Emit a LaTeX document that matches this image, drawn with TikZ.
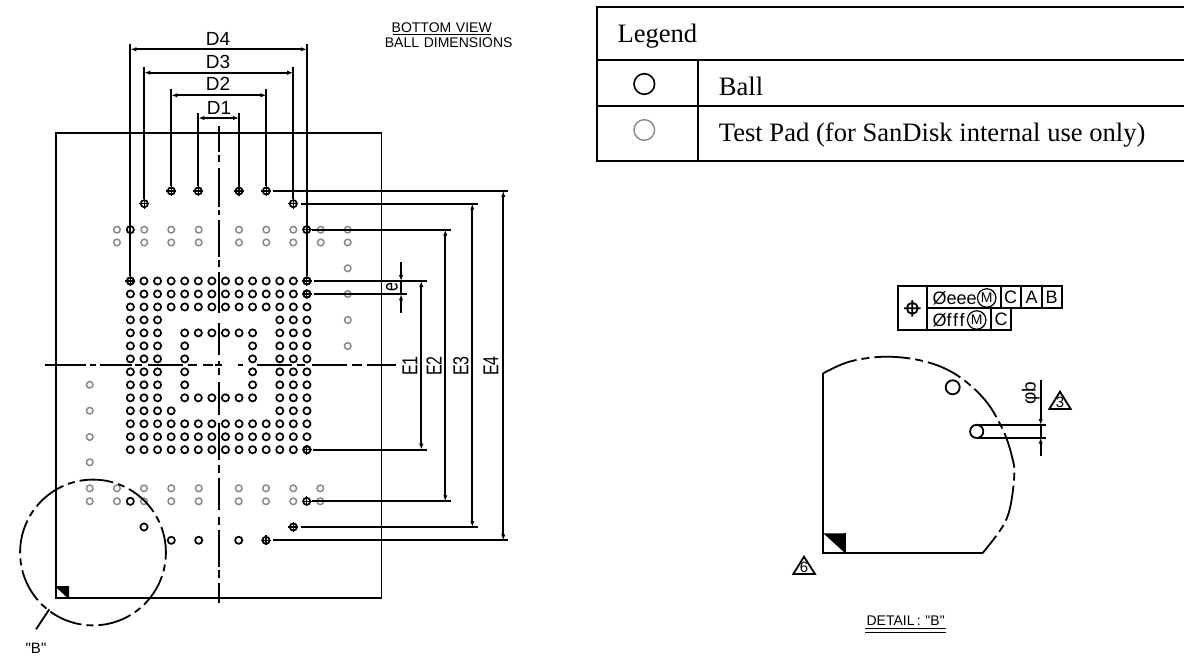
\documentclass[tikz,border=0pt]{standalone}
\usepackage{fontspec}
\setmainfont{Liberation Serif}
\newfontfamily\cadfont{Liberation Sans}
\usetikzlibrary{arrows.meta}
\definecolor{padgrey}{HTML}{8A8A8A}
\tikzset{
  lin/.style={line width=1.8pt,black},
  thinlin/.style={line width=1.2pt,black},
  tipsboth/.style={lin,{Latex[length=6pt,width=4.4pt]}-{Latex[length=6pt,width=4.4pt]}},
  tipend/.style={lin,-{Latex[length=6pt,width=4.4pt]}},
  ballmark/.style={line width=1.7pt,black},
  padmark/.style={line width=1.5pt,padgrey},
  cad/.style={font=\cadfont\fontsize{19}{19}\selectfont,inner sep=0pt},
  cadtall/.style={font=\cadfont\fontsize{16}{16}\selectfont,inner sep=0pt,rotate=90},
  cadsmall/.style={font=\cadfont\fontsize{14}{14}\selectfont,inner sep=0pt},
  cadmark/.style={font=\cadfont\fontsize{15}{15}\selectfont,inner sep=0pt},
  fcftxt/.style={font=\cadfont\fontsize{18}{18}\selectfont,inner sep=0pt},
  fcfm/.style={font=\cadfont\fontsize{14}{14}\selectfont,draw,circle,line width=1.2pt,minimum size=18.5pt,inner sep=0pt},
  legendtxt/.style={font=\fontsize{26.6}{27}\selectfont,inner sep=0pt,anchor=base west},
  tablelin/.style={line width=1.8pt,black},
}
\newcommand{\ballat}[2]{\draw[ballmark] (#1,#2) circle[radius=3.6pt];}
\newcommand{\crossat}[2]{\draw[ballmark] (#1,#2) circle[radius=3.6pt];
  \draw[line width=1.1pt] (#1-5,#2) -- (#1+5,#2) (#1,#2-5) -- (#1,#2+5);}
\newcommand{\padat}[2]{\draw[padmark] (#1,#2) circle[radius=3.3pt];}
\newcommand{\gridball}[2]{\ballat{{130.4+13.58*#2}}{{281+12.98*#1}}}
\begin{document}
\begin{tikzpicture}[x=1pt,y=-1pt]
\useasboundingbox (0,0) rectangle (1184,658);
\fill[white] (0,0) rectangle (1184,658);

% package body
\draw[lin] (56,132.7) rectangle (381.5,598);
\foreach \a/\b in {126/152,155/162,168/207,210/215,220/257,260/267,272/313,323/355,361/365,368/375,382/415,423/460,465/473,478/510,517/525,530/567,570/578,583/603}
  {\draw[lin] (218.8,\a) -- (218.8,\b);}
\foreach \a/\b in {45/86,90/96,100/131.7,135/141.7,148.3/183.3,188.3/196.7,203.3/213.3,215/222,238.3/243.3,256.7/291.7,296.7/305,311.7/346.7,351.7/361.7,366.7/396}
  {\draw[lin] (\a,365.3) -- (\b,365.3);}
\fill[white] (56,586) rectangle (69,598);
\draw[lin] (56,586) -- (69,598);
\fill[black] (56,586) -- (69,586) -- (69,598) -- cycle;
\draw[lin] (56,598) -- (56,580) (56,598) -- (75,598);

% ball grid
\foreach \r in {0,1,2,11,12,13}{\foreach \c in {0,...,13}{\gridball{\r}{\c}}}
\foreach \r in {3,...,10}{\foreach \c in {0,1,2,11,12,13}{\gridball{\r}{\c}}}
\gridball{10}{3}
\foreach \r in {4,9}{\foreach \c in {4,...,9}{\gridball{\r}{\c}}}
\foreach \r in {5,6,7,8}{\foreach \c in {4,9}{\gridball{\r}{\c}}}
\crossat{130.4}{281}\crossat{306.9}{281}\crossat{306.9}{294}\crossat{306.9}{449.7}

% test pads
\foreach \x in {117,144.3,171.3,198.7,239,266.3,293.3,320.7,347.7}{\padat{\x}{229.7}\padat{\x}{242.5}}
\foreach \y in {268.3,294,320,346}{\padat{347.7}{\y}}
\foreach \y in {384.7,410.7,437,462.3}{\padat{89.7}{\y}}
\foreach \x in {89.7,117,144,171.3,198.7,238.7,266,293.3,320.3}{\padat{\x}{488.3}\padat{\x}{501.3}}

% outer balls
\foreach \x in {171.3,198.3,239,266.3}{\crossat{\x}{191}}
\crossat{144.3}{203.7}\crossat{293.3}{203.7}
\ballat{130.3}{229.7}\crossat{306.7}{229.7}
\ballat{130.3}{501.3}\crossat{306.7}{501.3}
\ballat{144}{527}\crossat{293.3}{527}
\ballat{171.3}{540.3}\ballat{198.7}{540.3}\ballat{238.7}{540.3}\crossat{266}{540.3}

% D dimensions
\draw[lin] (130.3,44) -- (130.3,276) (306.8,44) -- (306.8,276);
\draw[lin] (144.3,67) -- (144.3,199) (293.2,67) -- (293.2,199);
\draw[lin] (171.3,89) -- (171.3,186) (266.3,89) -- (266.3,186);
\draw[lin] (198.3,112.7) -- (198.3,186) (239,112.7) -- (239,186);
\draw[tipsboth] (130.3,49.3) -- (306.8,49.3);
\draw[tipsboth] (144.3,72.7) -- (293.2,72.7);
\draw[tipsboth] (171.3,95.3) -- (266.3,95.3);
\draw[tipsboth] (198.3,118) -- (239,118);
\node[cad] (d4) at (218,39) {D4};
\node[cad] (d3) at (218,62) {D3};
\node[cad] (d2) at (218,84) {D2};
\node[cad] (d1) at (219,108) {D1};

% E dimensions
\draw[lin] (273,191) -- (508,191) (273,540.3) -- (508,540.3);
\draw[lin] (301,203.7) -- (478,203.7) (300.5,527) -- (478,527);
\draw[lin] (312,229.7) -- (451,229.7) (312,501.3) -- (451,501.3);
\draw[lin] (314,281) -- (426.7,281) (313,449.7) -- (426.7,449.7);
\draw[lin] (314,294.3) -- (407,294.3);
\draw[tipsboth] (503.3,191) -- (503.3,540.3);
\draw[tipsboth] (472.3,203.7) -- (472.3,527);
\draw[tipsboth] (445.3,229.7) -- (445.3,501.3);
\draw[tipsboth] (421.3,281) -- (421.3,449.7);
\draw[tipend] (401,261.7) -- (401,281);
\draw[tipend] (401,313) -- (401,294.3);
\draw[lin] (401,281) -- (401,294.3);
\node[cadtall] (e4) at (491,366) {\scalebox{1}[1.35]{E4}};
\node[cadtall] (e3) at (461,366) {\scalebox{1}[1.35]{E3}};
\node[cadtall] (e2) at (434,366) {\scalebox{1}[1.35]{E2}};
\node[cadtall] (e1) at (410,366) {\scalebox{1}[1.35]{E1}};
\node[cadtall] (epitch) at (392,287) {\scalebox{1}[1.35]{e}};

% detail circle
\draw[lin,dash pattern=on 34pt off 5pt on 7pt off 5pt,dash phase=8pt] (93,552.5) circle[radius=72.9pt];
\draw[lin] (49.3,609.3) -- (36,629.3);
\node[cadmark] (bref) at (36,648) {"B"};

% title
\node[cadsmall] (bview) at (441.7,28) {BOTTOM\,\,VIEW};
\draw[thinlin] (393,34.3) -- (491,34.3);
\node[cadsmall] (bdim) at (448.7,43) {BALL\,\,DIMENSIONS};

% legend
\draw[tablelin] (1184,6.7) -- (596.7,6.7) -- (596.7,160.7) -- (1184,160.7);
\draw[tablelin] (596.7,60.3) -- (1184,60.3) (596.7,106.3) -- (1184,106.3);
\draw[tablelin] (697.7,60.3) -- (697.7,160.7);
\node[legendtxt] (lgd) at (617.3,42.7) {Legend};
\node[legendtxt] (lball) at (718.7,96) {Ball};
\node[legendtxt] (lpad) at (718.7,141.7) {Test Pad (for SanDisk internal use only)};
\draw[line width=1.6pt] (644.3,84) circle[radius=10.3pt];
\draw[line width=1.4pt,padgrey] (644.3,130) circle[radius=10.3pt];

% feature control frame
\draw[lin] (897.7,286) rectangle (927.3,330);
\draw[lin] (927.3,286) rectangle (1061.7,308.3);
\draw[lin] (927.3,308.3) rectangle (1011.3,330);
\draw[lin] (1001,286) -- (1001,308.3) (1021.3,286) -- (1021.3,308.3) (1041.7,286) -- (1041.7,308.3);
\draw[lin] (991,308.3) -- (991,330);
\draw[lin] (912.3,308.3) circle[radius=5.5pt] (904,308.3) -- (920.6,308.3) (912.3,300) -- (912.3,316.6);
\node[fcftxt,anchor=base west] (feee) at (932.5,304) {Øeee};
\node[fcftxt,anchor=base west] (ffff) at (932.5,326) {Øf\kern1.5pt f\kern1.5pt f};
\node[fcfm] (m1) at (986.7,298) {M};
\node[fcfm] (m2) at (976.7,320) {M};
\node[fcftxt] (c1) at (1010.7,297.5) {C};
\node[fcftxt] (a1) at (1031.7,297.5) {A};
\node[fcftxt] (b1) at (1051.7,297.5) {B};
\node[fcftxt] (c2) at (1001,319.5) {C};

% detail B
\draw[lin] (823.3,373.3) -- (823.3,553) -- (982.7,553);
\fill[black] (823.3,533.3) -- (845,533.3) -- (845,553) -- cycle;
\draw[lin] (845,533.3) -- (845,553);
\draw[lin,dash pattern=on 36pt off 5pt on 8pt off 5pt] plot[smooth,tension=0.6] coordinates {(823.3,373.3) (850,361.5) (886.7,356.7) (925,361.5) (956.7,375) (985,400) (1003,430) (1012,456.7) (1014.3,475) (1010,508) (1001.7,528) (982.7,553)};
\draw[lin] (952.7,387.3) circle[radius=7pt];
\draw[lin] (976.7,431.4) circle[radius=6.6pt];
\draw[lin] (976.7,425) -- (1046,425) (976.7,437.7) -- (1046,437.7);
\draw[tipend] (1040.7,380) -- (1040.7,425);
\draw[tipend] (1040.7,455.7) -- (1040.7,437.7);
\draw[lin] (1040.7,425) -- (1040.7,437.7);
\node[cad,rotate=90] (phib) at (1030.7,393) {φb};
\draw[lin,line join=miter] (1049.3,409) -- (1060,391.7) -- (1070.7,409) -- cycle;
\node[cadmark] (n3) at (1060,402) {3};
\draw[lin,line join=miter] (793.3,574) -- (804,556.7) -- (815,574) -- cycle;
\node[cadmark] (n6) at (804,567) {6};
\node[cadsmall] (detail) at (905.7,621) {DETAIL\,:\,\,"B"};
\draw[thinlin] (865,628.7) -- (946,628.7) (865,632.3) -- (946,632.3);
\end{tikzpicture}
\end{document}
